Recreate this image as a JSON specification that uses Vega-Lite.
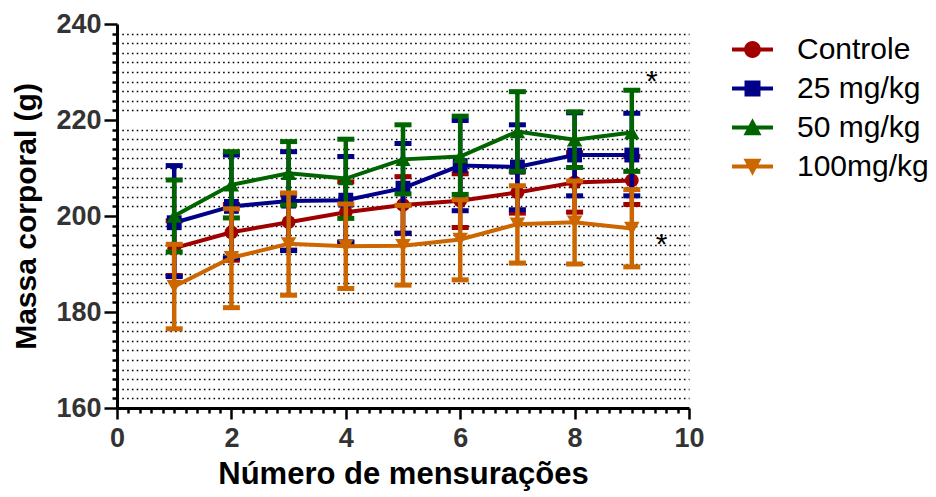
{
  "$schema": "https://vega.github.io/schema/vega-lite/v6.json",
  "width": 572,
  "height": 384,
  "autosize": {"type": "none"},
  "padding": {"left": 117, "top": 24, "right": 247, "bottom": 89},
  "background": "white",
  "config": {
    "view": {"stroke": null},
    "font": "Liberation Sans",
    "axis": {"labelFont": "Liberation Sans", "titleFont": "Liberation Sans"}
  },
  "datasets": {
    "medidas": [
      {"grupo": "Controle", "medida": 1, "massa": 193.3, "inf": 187.6, "sup": 199.0},
      {"grupo": "Controle", "medida": 2, "massa": 196.6, "inf": 190.8, "sup": 202.4},
      {"grupo": "Controle", "medida": 3, "massa": 198.7, "inf": 192.9, "sup": 204.5},
      {"grupo": "Controle", "medida": 4, "massa": 200.8, "inf": 194.5, "sup": 207.1},
      {"grupo": "Controle", "medida": 5, "massa": 202.3, "inf": 196.4, "sup": 208.2},
      {"grupo": "Controle", "medida": 6, "massa": 203.2, "inf": 197.6, "sup": 208.8},
      {"grupo": "Controle", "medida": 7, "massa": 204.9, "inf": 200.6, "sup": 209.2},
      {"grupo": "Controle", "medida": 8, "massa": 207.0, "inf": 200.8, "sup": 213.2},
      {"grupo": "Controle", "medida": 9, "massa": 207.4, "inf": 202.4, "sup": 212.4},
      {"grupo": "25 mg/kg", "medida": 1, "massa": 198.6, "inf": 187.4, "sup": 210.5},
      {"grupo": "25 mg/kg", "medida": 2, "massa": 202.0, "inf": 191.3, "sup": 212.7},
      {"grupo": "25 mg/kg", "medida": 3, "massa": 203.1, "inf": 192.8, "sup": 213.4},
      {"grupo": "25 mg/kg", "medida": 4, "massa": 203.3, "inf": 194.6, "sup": 212.4},
      {"grupo": "25 mg/kg", "medida": 5, "massa": 205.8, "inf": 196.4, "sup": 215.1},
      {"grupo": "25 mg/kg", "medida": 6, "massa": 210.5, "inf": 201.1, "sup": 219.9},
      {"grupo": "25 mg/kg", "medida": 7, "massa": 210.2, "inf": 201.3, "sup": 219.0},
      {"grupo": "25 mg/kg", "medida": 8, "massa": 212.7, "inf": 204.2, "sup": 221.5},
      {"grupo": "25 mg/kg", "medida": 9, "massa": 212.7, "inf": 204.2, "sup": 221.4},
      {"grupo": "50 mg/kg", "medida": 1, "massa": 200.0, "inf": 192.5, "sup": 207.5},
      {"grupo": "50 mg/kg", "medida": 2, "massa": 206.5, "inf": 199.6, "sup": 213.4},
      {"grupo": "50 mg/kg", "medida": 3, "massa": 208.9, "inf": 202.3, "sup": 215.5},
      {"grupo": "50 mg/kg", "medida": 4, "massa": 207.8, "inf": 199.5, "sup": 216.0},
      {"grupo": "50 mg/kg", "medida": 5, "massa": 211.8, "inf": 204.6, "sup": 219.0},
      {"grupo": "50 mg/kg", "medida": 6, "massa": 212.4, "inf": 204.5, "sup": 220.8},
      {"grupo": "50 mg/kg", "medida": 7, "massa": 217.6, "inf": 209.3, "sup": 225.9},
      {"grupo": "50 mg/kg", "medida": 8, "massa": 215.9, "inf": 210.1, "sup": 221.7},
      {"grupo": "50 mg/kg", "medida": 9, "massa": 217.4, "inf": 209.3, "sup": 226.2},
      {"grupo": "100mg/kg", "medida": 1, "massa": 185.3, "inf": 176.5, "sup": 194.1},
      {"grupo": "100mg/kg", "medida": 2, "massa": 191.3, "inf": 180.9, "sup": 201.5},
      {"grupo": "100mg/kg", "medida": 3, "massa": 194.2, "inf": 183.5, "sup": 204.8},
      {"grupo": "100mg/kg", "medida": 4, "massa": 193.7, "inf": 184.9, "sup": 202.5},
      {"grupo": "100mg/kg", "medida": 5, "massa": 193.8, "inf": 185.6, "sup": 202.2},
      {"grupo": "100mg/kg", "medida": 6, "massa": 195.1, "inf": 186.7, "sup": 203.4},
      {"grupo": "100mg/kg", "medida": 7, "massa": 198.3, "inf": 190.2, "sup": 206.3},
      {"grupo": "100mg/kg", "medida": 8, "massa": 198.7, "inf": 190.0, "sup": 207.3},
      {"grupo": "100mg/kg", "medida": 9, "massa": 197.4, "inf": 189.4, "sup": 205.5}
    ],
    "notas": [
      {"medida": 9.35, "massa": 227.9, "txt": "*"},
      {"medida": 9.52, "massa": 194.0, "txt": "*"}
    ]
  },
  "data": {"name": "medidas"},
  "encoding": {
    "x": {
      "field": "medida",
      "type": "quantitative",
      "scale": {"domain": [0, 10], "nice": false, "zero": false},
      "axis": {
        "values": [0,0.2,0.4,0.6,0.8,1,1.2,1.4,1.6,1.8,2,2.2,2.4,2.6,2.8,3,3.2,3.4,3.6,3.8,4,4.2,4.4,4.6,4.8,5,5.2,5.4,5.6,5.8,6,6.2,6.4,6.6,6.8,7,7.2,7.4,7.6,7.8,8,8.2,8.4,8.6,8.8,9,9.2,9.4,9.6,9.8,10],
        "labelExpr": "datum.value % 2 === 0 ? '' + datum.value : ''",
        "tickSize": {"condition": {"test": "datum.value % 2 === 0", "value": 11}, "value": 5},
        "tickWidth": 2.5,
        "tickColor": "black",
        "domainColor": "black",
        "domainWidth": 3,
        "grid": false,
        "labelFontSize": 27,
        "labelFontWeight": "bold",
        "labelColor": "#333333",
        "labelPadding": 6,
        "labelFlush": false,
        "labelOverlap": false,
        "title": "Número de mensurações",
        "titleFontSize": 31,
        "titleFontWeight": "bold",
        "titleColor": "black",
        "titlePadding": 8
      }
    },
    "y": {
      "field": "massa",
      "type": "quantitative",
      "scale": {"domain": [160, 240], "nice": false, "zero": false},
      "axis": {
        "values": [160,162,164,166,168,170,172,174,176,178,180,182,184,186,188,190,192,194,196,198,200,202,204,206,208,210,212,214,216,218,220,222,224,226,228,230,232,234,236,238,240],
        "labelExpr": "datum.value % 20 === 0 ? '' + datum.value : ''",
        "tickSize": {"condition": {"test": "datum.value % 20 === 0", "value": 13}, "value": 5},
        "tickWidth": 2.5,
        "tickColor": "black",
        "domainColor": "black",
        "domainWidth": 3,
        "grid": true,
        "gridColor": "black",
        "gridWidth": 1.6,
        "gridDash": [1.6, 3.2],
        "gridOpacity": {"condition": {"test": "datum.value % 20 === 0", "value": 0}, "value": 1},
        "labelFontSize": 27,
        "labelFontWeight": "bold",
        "labelColor": "#333333",
        "labelPadding": 3,
        "labelOverlap": false,
        "title": "Massa corporal (g)",
        "titleFontSize": 30,
        "titleFontWeight": "bold",
        "titleColor": "black",
        "titlePadding": 14
      }
    },
    "color": {
      "field": "grupo",
      "type": "nominal",
      "scale": {
        "domain": ["Controle", "25 mg/kg", "50 mg/kg", "100mg/kg"],
        "range": ["#A00000", "#000088", "#006400", "#CC6600"]
      },
      "legend": {
        "title": null,
        "orient": "none",
        "legendX": 615,
        "legendY": 5,
        "padding": 0,
        "symbolSize": 1681,
        "symbolStrokeWidth": 0,
        "symbolOpacity": 1,
        "rowPadding": 3,
        "labelFont": "Liberation Sans",
        "labelFontSize": 30,
        "labelColor": "black",
        "labelOffset": 24,
        "labelLimit": 300
      }
    }
  },
  "layer": [
    {
      "mark": {"type": "point", "filled": true, "opacity": 0, "size": 1681},
      "encoding": {
        "shape": {
          "field": "grupo",
          "type": "nominal",
          "scale": {
            "domain": ["Controle", "25 mg/kg", "50 mg/kg", "100mg/kg"],
            "range": [
              "M-1,-0.1H1V0.1H-1ZM-0.41,0A0.41,0.41,0,1,1,0.41,0A0.41,0.41,0,1,1,-0.41,0Z",
              "M-1,-0.1H1V0.1H-1ZM-0.39,-0.39H0.39V0.39H-0.39Z",
              "M-1,-0.1H1V0.1H-1ZM0,-0.45L0.44,0.38H-0.44Z",
              "M-1,-0.1H1V0.1H-1ZM-0.44,-0.38H0.44L0,0.45Z"
            ]
          },
          "legend": {
            "title": null,
            "orient": "none",
            "legendX": 615,
            "legendY": 5,
            "padding": 0,
            "symbolSize": 1681,
            "symbolStrokeWidth": 0,
            "symbolOpacity": 1,
            "rowPadding": 3,
            "labelFont": "Liberation Sans",
            "labelFontSize": 30,
            "labelColor": "black",
            "labelOffset": 24,
            "labelLimit": 300
          }
        }
      }
    },
    {
      "transform": [{"filter": "datum.grupo === 'Controle'"}],
      "layer": [
        {"mark": {"type": "rule", "strokeWidth": 4.5}, "encoding": {"y": {"field": "inf", "type": "quantitative"}, "y2": {"field": "sup"}}},
        {"mark": {"type": "tick", "orient": "horizontal", "size": 17, "thickness": 5, "opacity": 1}, "encoding": {"y": {"field": "inf", "type": "quantitative"}}},
        {"mark": {"type": "tick", "orient": "horizontal", "size": 17, "thickness": 5, "opacity": 1}, "encoding": {"y": {"field": "sup", "type": "quantitative"}}},
        {"mark": {"type": "line", "strokeWidth": 4}, "encoding": {}},
        {"mark": {"type": "point", "shape": "circle", "filled": true, "opacity": 1, "size": 190}, "encoding": {}}
      ]
    },
    {
      "transform": [{"filter": "datum.grupo === '25 mg/kg'"}],
      "layer": [
        {"mark": {"type": "rule", "strokeWidth": 4.5}, "encoding": {"y": {"field": "inf", "type": "quantitative"}, "y2": {"field": "sup"}}},
        {"mark": {"type": "tick", "orient": "horizontal", "size": 17, "thickness": 5, "opacity": 1}, "encoding": {"y": {"field": "inf", "type": "quantitative"}}},
        {"mark": {"type": "tick", "orient": "horizontal", "size": 17, "thickness": 5, "opacity": 1}, "encoding": {"y": {"field": "sup", "type": "quantitative"}}},
        {"mark": {"type": "line", "strokeWidth": 4}, "encoding": {}},
        {"mark": {"type": "point", "shape": "square", "filled": true, "opacity": 1, "size": 220}, "encoding": {}}
      ]
    },
    {
      "transform": [{"filter": "datum.grupo === '50 mg/kg'"}],
      "layer": [
        {"mark": {"type": "rule", "strokeWidth": 4.5}, "encoding": {"y": {"field": "inf", "type": "quantitative"}, "y2": {"field": "sup"}}},
        {"mark": {"type": "tick", "orient": "horizontal", "size": 17, "thickness": 5, "opacity": 1}, "encoding": {"y": {"field": "inf", "type": "quantitative"}}},
        {"mark": {"type": "tick", "orient": "horizontal", "size": 17, "thickness": 5, "opacity": 1}, "encoding": {"y": {"field": "sup", "type": "quantitative"}}},
        {"mark": {"type": "line", "strokeWidth": 4}, "encoding": {}},
        {"mark": {"type": "point", "shape": "triangle-up", "filled": true, "opacity": 1, "size": 240}, "encoding": {}}
      ]
    },
    {
      "transform": [{"filter": "datum.grupo === '100mg/kg'"}],
      "layer": [
        {"mark": {"type": "rule", "strokeWidth": 4.5}, "encoding": {"y": {"field": "inf", "type": "quantitative"}, "y2": {"field": "sup"}}},
        {"mark": {"type": "tick", "orient": "horizontal", "size": 17, "thickness": 5, "opacity": 1}, "encoding": {"y": {"field": "inf", "type": "quantitative"}}},
        {"mark": {"type": "tick", "orient": "horizontal", "size": 17, "thickness": 5, "opacity": 1}, "encoding": {"y": {"field": "sup", "type": "quantitative"}}},
        {"mark": {"type": "line", "strokeWidth": 4}, "encoding": {}},
        {"mark": {"type": "point", "shape": "triangle-down", "filled": true, "opacity": 1, "size": 240}, "encoding": {}}
      ]
    },
    {
      "data": {"name": "notas"},
      "mark": {"type": "text", "fontSize": 30, "font": "Liberation Sans"},
      "encoding": {
        "text": {"field": "txt"},
        "color": {"value": "black"}
      }
    }
  ]
}
